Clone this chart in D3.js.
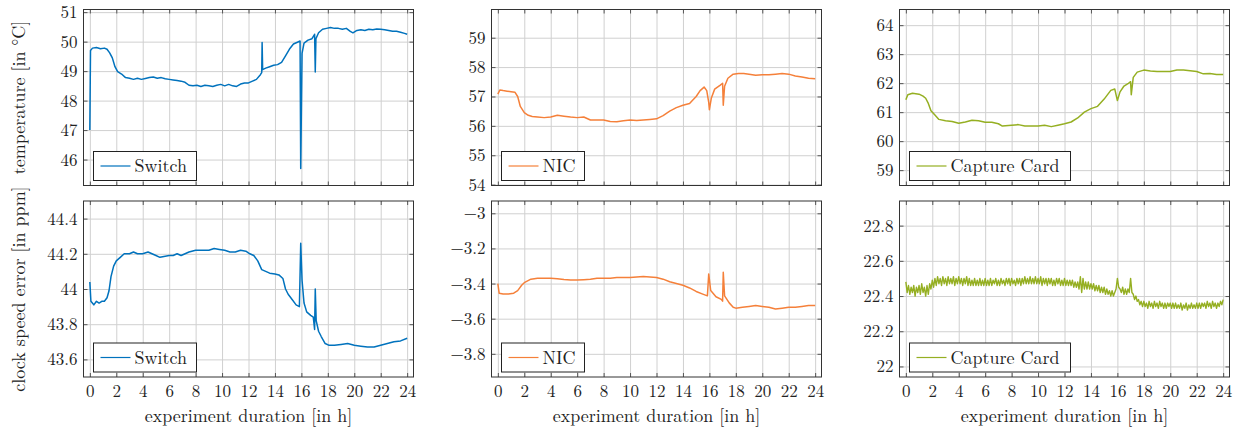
<!DOCTYPE html>
<html>
<head>
<meta charset="utf-8">
<script src="https://cdn.jsdelivr.net/npm/d3@7"></script>
<style>
  body { margin: 0; background: #fff; }
</style>
</head>
<body>
<svg id="chart" width="1239" height="428" font-family="'Latin Modern Roman', 'Liberation Serif', serif"></svg>
<script>
// hours on x, readings on y
var switchTemp = [[0,47.0],[0.05,49.7],[0.2,49.78],[0.5,49.8],[0.8,49.76],[1.1,49.78],[1.3,49.74],[1.5,49.62],[1.7,49.45],[1.9,49.15],
  [2.1,48.98],[2.4,48.9],[2.7,48.78],[3.0,48.76],[3.3,48.72],[3.6,48.76],[3.9,48.72],[4.2,48.75],[4.5,48.78],[4.8,48.8],[5.1,48.76],
  [5.4,48.78],[5.7,48.74],[6.0,48.72],[6.3,48.7],[6.6,48.68],[6.9,48.66],[7.2,48.62],[7.5,48.52],[7.8,48.5],[8.1,48.52],[8.4,48.48],
  [8.7,48.52],[9.0,48.5],[9.3,48.48],[9.6,48.52],[9.9,48.55],[10.2,48.5],[10.5,48.55],[10.8,48.5],[11.1,48.48],[11.4,48.56],[11.7,48.6],
  [12.0,48.6],[12.3,48.66],[12.6,48.72],[12.9,48.88],[13.0,48.95],[13.03,49.97],[13.07,49.05],[13.3,49.1],[13.6,49.15],[13.9,49.2],
  [14.2,49.22],[14.5,49.3],[14.8,49.52],[15.1,49.75],[15.4,49.92],[15.7,49.98],[15.9,50.02],[15.95,45.7],[16.05,49.6],[16.2,49.95],
  [16.5,50.05],[16.8,50.1],[17.0,50.25],[17.05,48.97],[17.1,50.1],[17.3,50.3],[17.6,50.42],[17.9,50.45],[18.2,50.48],[18.5,50.45],
  [18.8,50.45],[19.1,50.42],[19.4,50.45],[19.7,50.35],[19.9,50.3],[20.2,50.38],[20.5,50.4],[20.8,50.38],[21.1,50.42],[21.4,50.4],
  [21.7,50.43],[22.0,50.42],[22.3,50.4],[22.6,50.38],[22.9,50.35],[23.2,50.35],[23.5,50.32],[23.8,50.28],[24.0,50.25]];

var nicTemp = [[0,57.08],[0.15,57.22],[0.4,57.2],[0.7,57.18],[1.0,57.16],[1.3,57.14],[1.5,57.0],[1.7,56.66],[2.0,56.45],[2.3,56.36],
  [2.6,56.32],[3.0,56.3],[3.5,56.28],[4.0,56.3],[4.5,56.36],[5.0,56.33],[5.5,56.3],[6.0,56.28],[6.5,56.3],[7.0,56.2],[7.5,56.2],
  [8.0,56.2],[8.5,56.15],[9.0,56.14],[9.5,56.17],[10.0,56.2],[10.5,56.18],[11.0,56.2],[11.5,56.22],[12.0,56.24],[12.5,56.35],
  [13.0,56.5],[13.5,56.62],[14.0,56.7],[14.5,56.76],[15.0,57.0],[15.3,57.2],[15.6,57.32],[15.8,57.2],[15.95,56.8],[16.0,56.55],
  [16.15,56.95],[16.4,57.25],[16.8,57.38],[17.0,57.45],[17.05,56.7],[17.15,57.35],[17.4,57.62],[17.8,57.76],[18.2,57.78],[18.6,57.78],
  [19.0,57.76],[19.5,57.72],[20.0,57.74],[20.5,57.74],[21.0,57.76],[21.5,57.78],[22.0,57.76],[22.5,57.7],[23.0,57.66],[23.5,57.62],[24.0,57.6]];

var cardTemp = [[0,61.43],[0.15,61.6],[0.5,61.65],[1.0,61.62],[1.3,61.55],[1.5,61.48],[1.7,61.3],[1.9,61.05],[2.2,60.9],[2.5,60.75],
  [3.0,60.7],[3.5,60.68],[4.0,60.62],[4.5,60.66],[5.0,60.72],[5.5,60.7],[6.0,60.65],[6.5,60.65],[7.0,60.6],[7.3,60.52],[8.0,60.55],
  [8.5,60.57],[9.0,60.52],[9.5,60.52],[10.0,60.52],[10.5,60.55],[11.0,60.5],[11.5,60.55],[12.0,60.6],[12.5,60.66],[13.0,60.8],
  [13.5,61.0],[14.0,61.12],[14.5,61.2],[15.0,61.45],[15.5,61.75],[15.8,61.8],[16.0,61.4],[16.2,61.7],[16.5,61.9],[16.8,61.98],
  [17.0,62.05],[17.05,61.6],[17.2,62.2],[17.5,62.38],[18.0,62.45],[18.5,62.42],[19.0,62.4],[19.5,62.4],[20.0,62.4],[20.5,62.45],
  [21.0,62.45],[21.5,62.43],[22.0,62.4],[22.5,62.32],[23.0,62.33],[23.5,62.3],[24.0,62.3]];

var switchClock = [[0,44.04],[0.08,43.93],[0.3,43.91],[0.5,43.93],[0.7,43.92],[0.9,43.93],[1.1,43.93],[1.3,43.95],[1.45,43.99],
  [1.6,44.07],[1.8,44.13],[2.0,44.16],[2.3,44.18],[2.6,44.2],[3.0,44.2],[3.3,44.21],[3.6,44.2],[4.0,44.2],[4.4,44.21],[4.7,44.2],
  [5.0,44.19],[5.3,44.18],[5.6,44.185],[6.0,44.19],[6.3,44.19],[6.6,44.2],[6.9,44.19],[7.2,44.2],[7.5,44.21],[8.0,44.22],[8.5,44.22],
  [9.0,44.22],[9.4,44.23],[9.8,44.225],[10.2,44.22],[10.6,44.21],[11.0,44.21],[11.4,44.22],[11.8,44.215],[12.1,44.2],[12.4,44.19],
  [12.7,44.16],[13.0,44.11],[13.3,44.1],[13.6,44.09],[14.0,44.085],[14.3,44.08],[14.6,44.06],[14.8,44.0],[15.0,43.97],[15.3,43.94],
  [15.6,43.91],[15.85,43.9],[15.95,44.26],[16.05,44.05],[16.2,43.92],[16.4,43.87],[16.7,43.85],[16.9,43.84],[17.0,43.77],[17.05,44.0],
  [17.12,43.82],[17.3,43.76],[17.5,43.73],[17.8,43.69],[18.1,43.68],[18.5,43.68],[19.0,43.685],[19.5,43.69],[20.0,43.68],[20.5,43.675],
  [21.0,43.67],[21.5,43.67],[22.0,43.68],[22.5,43.69],[23.0,43.7],[23.5,43.705],[24.0,43.72]];

var nicClock = [[0,-3.4],[0.1,-3.455],[0.4,-3.46],[0.8,-3.46],[1.2,-3.455],[1.5,-3.44],[1.8,-3.41],[2.0,-3.395],[2.5,-3.375],[3.0,-3.37],
  [3.5,-3.37],[4.0,-3.37],[4.5,-3.372],[5.0,-3.377],[5.5,-3.38],[6.0,-3.38],[6.5,-3.378],[7.0,-3.376],[7.5,-3.37],[8.0,-3.37],[8.5,-3.37],
  [9.0,-3.366],[9.5,-3.365],[10.0,-3.365],[10.5,-3.362],[11.0,-3.36],[11.5,-3.362],[12.0,-3.365],[12.5,-3.375],[13.0,-3.39],[13.5,-3.4],
  [14.0,-3.41],[14.5,-3.425],[15.0,-3.445],[15.5,-3.46],[15.85,-3.47],[15.95,-3.345],[16.1,-3.44],[16.5,-3.475],[16.9,-3.49],[17.0,-3.5],
  [17.05,-3.336],[17.15,-3.47],[17.5,-3.51],[17.8,-3.535],[18.0,-3.54],[18.5,-3.535],[19.0,-3.53],[19.5,-3.525],[20.0,-3.53],[20.5,-3.535],
  [21.0,-3.545],[21.5,-3.54],[22.0,-3.535],[22.5,-3.535],[23.0,-3.53],[23.5,-3.525],[24.0,-3.525]];

// capture card clock is very noisy: one reading every 0.1 h, from 0 h to 24 h
var cardClockStep = 0.1;
var cardClock = [
  22.48,22.42,22.46,22.41,22.45,22.42,22.46,22.40,22.45,22.42, 22.46,22.41,22.47,22.42,22.45,22.40,22.46,22.41,22.47,22.44,
  22.49,22.45,22.50,22.46,22.51,22.47,22.50,22.46,22.51,22.47, 22.50,22.46,22.51,22.47,22.50,22.47,22.51,22.46,22.50,22.47,
  22.51,22.47,22.50,22.46,22.50,22.47,22.51,22.46,22.50,22.46, 22.49,22.46,22.50,22.46,22.49,22.46,22.50,22.46,22.49,22.46,
  22.50,22.46,22.49,22.46,22.50,22.46,22.49,22.47,22.50,22.46, 22.49,22.46,22.50,22.47,22.49,22.46,22.50,22.47,22.50,22.46,
  22.50,22.47,22.49,22.46,22.50,22.47,22.50,22.46,22.50,22.47, 22.51,22.47,22.50,22.47,22.51,22.47,22.50,22.47,22.51,22.47,
  22.50,22.47,22.51,22.46,22.50,22.47,22.50,22.46,22.50,22.47, 22.50,22.46,22.49,22.46,22.50,22.47,22.50,22.46,22.49,22.46,
  22.50,22.46,22.49,22.46,22.49,22.46,22.49,22.45,22.48,22.45, 22.48,22.44,22.51,22.42,22.50,22.44,22.48,22.44,22.48,22.44,
  22.47,22.44,22.47,22.43,22.46,22.43,22.46,22.42,22.45,22.42, 22.45,22.41,22.44,22.41,22.43,22.40,22.43,22.40,22.42,22.44,
  22.50,22.45,22.44,22.42,22.45,22.41,22.44,22.41,22.44,22.42, 22.50,22.42,22.41,22.38,22.40,22.37,22.38,22.35,22.37,22.34,
  22.37,22.34,22.36,22.33,22.37,22.34,22.36,22.33,22.37,22.34, 22.36,22.33,22.37,22.34,22.36,22.33,22.36,22.33,22.36,22.34,
  22.36,22.33,22.36,22.33,22.36,22.33,22.35,22.33,22.36,22.32, 22.35,22.33,22.36,22.32,22.35,22.33,22.36,22.33,22.35,22.33,
  22.36,22.33,22.36,22.33,22.36,22.34,22.36,22.33,22.37,22.34, 22.36,22.33,22.37,22.34,22.36,22.33,22.36,22.34,22.37,22.35,
  22.38];

var hourTicks = [0, 2, 4, 6, 8, 10, 12, 14, 16, 18, 20, 22, 24];
var switchTempTicks = [46, 47, 48, 49, 50, 51];
var nicTempTicks = [54, 55, 56, 57, 58, 59];
var cardTempTicks = [59, 60, 61, 62, 63, 64];
var switchClockTicks = [43.6, 43.8, 44, 44.2, 44.4];
var nicClockTicks = [-3.8, -3.6, -3.4, -3.2, -3];
var cardClockTicks = [22, 22.2, 22.4, 22.6, 22.8];

var devices = ["Switch", "NIC", "Capture Card"];
var colors = ["#0072bd", "#f5803a", "#95af22"];

var svg = d3.select("#chart");
var colX = [83.5, 491.5, 899.5], plotW = 330;
var rowY = [9.5, 201], plotH = 176;

var panels = [
  {row: 0, col: 0, data: switchTemp, dom: [45.12, 51.09], ticks: switchTempTicks},
  {row: 0, col: 1, data: nicTemp, dom: [53.97, 59.96], ticks: nicTempTicks},
  {row: 0, col: 2, data: cardTemp, dom: [58.47, 64.54], ticks: cardTempTicks},
  {row: 1, col: 0, data: switchClock, dom: [43.5, 44.5], ticks: switchClockTicks},
  {row: 1, col: 1, data: nicClock, dom: [-3.932, -2.93], ticks: nicClockTicks},
  {row: 1, col: 2, data: cardClock.map((v, i) => [i * cardClockStep, v]), dom: [21.94, 22.94], ticks: cardClockTicks}
];

var fmt = d3.format("~g");

function clean(a, color) {
  a.attr("font-family", null).attr("font-size", null);
  a.select(".domain").remove();
  a.selectAll("line").attr("stroke", color);
}

panels.forEach(function(p) {
  var g = svg.append("g").attr("transform", "translate(" + colX[p.col] + "," + rowY[p.row] + ")");
  var x = d3.scaleLinear().domain([-0.48, 24.48]).range([0, plotW]);
  var y = d3.scaleLinear().domain(p.dom).range([plotH, 0]);

  // grid
  g.append("g").attr("transform", "translate(0," + plotH + ")")
    .call(d3.axisBottom(x).tickValues(hourTicks).tickSize(-plotH).tickFormat(""))
    .call(clean, "#d0d0d0");
  g.append("g").call(d3.axisLeft(y).tickValues(p.ticks).tickSize(-plotW).tickFormat(""))
    .call(clean, "#d0d0d0");

  // inward tick marks on all four sides
  var tk = 4;
  g.append("g").attr("transform", "translate(0," + plotH + ")")
    .call(d3.axisBottom(x).tickValues(hourTicks).tickSize(-tk).tickFormat(p.row == 1 ? fmt : ""))
    .call(clean, "#555")
    .call(a => a.selectAll("text").attr("y", 8).attr("dy", "0.71em").attr("font-size", 17).attr("fill", "#222"));
  g.append("g").call(d3.axisTop(x).tickValues(hourTicks).tickSize(-tk).tickFormat(""))
    .call(clean, "#555");
  g.append("g").call(d3.axisLeft(y).tickValues(p.ticks).tickSize(-tk).tickFormat(fmt))
    .call(clean, "#555")
    .call(a => a.selectAll("text").attr("x", -6).attr("font-size", 17).attr("fill", "#222"));
  g.append("g").attr("transform", "translate(" + plotW + ",0)")
    .call(d3.axisRight(y).tickValues(p.ticks).tickSize(-tk).tickFormat(""))
    .call(clean, "#555");

  var line = d3.line().x(d => x(d[0])).y(d => y(d[1]));
  g.append("path").datum(p.data)
    .attr("d", line).attr("fill", "none")
    .attr("stroke", colors[p.col]).attr("stroke-width", p.col == 2 && p.row == 1 ? 1.4 : 1.5)
    .attr("stroke-linejoin", "round");

  g.append("rect").attr("width", plotW).attr("height", plotH)
    .attr("fill", "none").attr("stroke", "#333").attr("stroke-width", 1);

  // legend
  var lg = g.append("g").attr("transform", "translate(10," + (plotH - 34) + ")");
  var lw = p.col == 2 ? 161 : (p.col == 1 ? 83 : 103);
  lg.append("rect").attr("width", lw).attr("height", 29)
    .attr("fill", "#fff").attr("stroke", "#222").attr("stroke-width", 1);
  lg.append("line").attr("x1", 7).attr("x2", 37).attr("y1", 14.5).attr("y2", 14.5)
    .attr("stroke", colors[p.col]).attr("stroke-width", 1.2);
  lg.append("text").attr("x", 41).attr("y", 14.5).attr("dy", "0.35em")
    .attr("font-size", 18).attr("fill", "#222").text(devices[p.col]);

  if (p.row == 1) {
    g.append("text").attr("x", plotW / 2).attr("y", plotH + 45)
      .attr("text-anchor", "middle").attr("font-size", 18).attr("fill", "#222").text("experiment duration [in h]");
  }
});

svg.append("text").attr("transform", "translate(25," + (rowY[0] + plotH / 2) + ") rotate(-90)")
  .attr("text-anchor", "middle").attr("font-size", 18).attr("fill", "#222").text("temperature [in °C]");
svg.append("text").attr("transform", "translate(25," + (rowY[1] + plotH / 2) + ") rotate(-90)")
  .attr("text-anchor", "middle").attr("font-size", 18).attr("fill", "#222").text("clock speed error [in ppm]");
</script>
</body>
</html>
